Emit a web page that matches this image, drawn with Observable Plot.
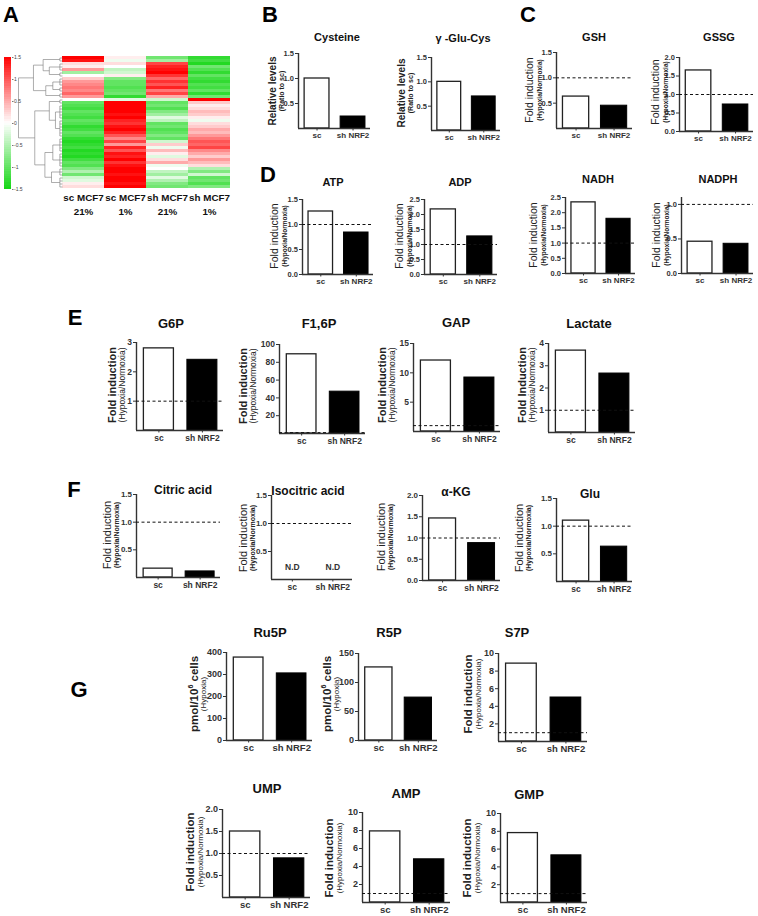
<!DOCTYPE html>
<html><head><meta charset="utf-8">
<script src="https://cdn.jsdelivr.net/npm/d3@7"></script>
<script src="https://cdn.jsdelivr.net/npm/@observablehq/plot@0.6"></script>
<style>
body{margin:0;background:#fff;font-family:"Liberation Sans",Arial,sans-serif;}
#root{position:relative;width:758px;height:916px;overflow:hidden;background:#fff;}
.abs{position:absolute;}
.title{position:absolute;transform:translate(-50%,-50%);font-weight:bold;white-space:nowrap;color:#111;line-height:1;}
.ylab{position:absolute;transform:translate(-50%,-50%) rotate(-90deg);white-space:nowrap;text-align:center;line-height:1.1;color:#222;}
.letter{position:absolute;transform:translate(-50%,-50%);font-weight:bold;font-size:22px;line-height:1;color:#000;}
</style></head><body><div id="root"></div>
<script>
// ---------- DATA ----------
const groups = ["sc", "sh NRF2"];
const metabolites = ["Cysteine", "γ -Glu-Cys", "GSH", "GSSG", "ATP", "ADP", "NADH", "NADPH",
  "G6P", "F1,6P", "GAP", "Lactate", "Citric acid", "Isocitric acid", "α-KG", "Glu",
  "Ru5P", "R5P", "S7P", "UMP", "AMP", "GMP"];
const scValues = [1.0, 1.0, 0.63, 1.65, 1.26, 2.17, 2.34, 0.46, 2.8, 89, 12.1, 3.68, 0.16, null, 1.46, 1.1, 377, 126, 8.85, 1.5, 7.9, 7.8];
const shValues = [0.24, 0.7, 0.45, 0.73, 0.84, 1.27, 1.8, 0.43, 2.41, 47, 9.2, 2.65, 0.11, null, 0.88, 0.63, 305, 74, 5.0, 0.89, 4.8, 5.3];
const yTickValues = [
  [0.5, 1, 1.5], [0.5, 1, 1.5], [0.5, 1, 1.5], [0, 0.5, 1, 1.5, 2],
  [0, 0.5, 1, 1.5], [0, 0.5, 1, 1.5, 2, 2.5], [0, 0.5, 1, 1.5, 2, 2.5], [0, 0.5, 1],
  [1, 2, 3], [20, 40, 60, 80, 100], [5, 10, 15], [1, 2, 3, 4],
  [0.5, 1, 1.5], [0.5, 1, 1.5], [0, 0.5, 1, 1.5, 2], [0.5, 1, 1.5],
  [0, 100, 200, 300, 400], [0, 50, 100, 150], [2, 4, 6, 8, 10],
  [0.5, 1, 1.5, 2], [2, 4, 6, 8, 10], [2, 4, 6, 8, 10]];
const yLabelMain = ["Relative levels", "Relative levels", "Fold induction", "Fold induction",
  "Fold induction", "Fold induction", "Fold induction", "Fold induction",
  "Fold induction", "Fold induction", "Fold induction", "Fold Induction",
  "Fold induction", "Fold induction", "Fold induction", "Fold induction",
  "pmol/10<sup>6</sup> cells", "pmol/10<sup>6</sup> cells", "Fold induction",
  "Fold induction", "Fold induction", "Fold induction"];
const yLabelSub = ["(Ratio to sc)", "(Ratio to sc)"].concat(Array(14).fill("(Hypoxia/Normoxia)"),
  ["(Hypoxia)", "(Hypoxia)"], Array(4).fill("(Hypoxia/Normoxia)"));
const referenceLine = 1; // fold induction = 1
const notDetected = "N.D";

// heatmap (rows top to bottom)
const heatColumns = ["sc MCF7\n21%", "sc MCF7\n1%", "sh MCF7\n21%", "sh MCF7\n1%"];
const heatSc21 = [1.5, 1.4, 0.2, 0.1, 0.6, -0.6, 0.0, 0.3, 0.6, 0.7, 0.8, 0.7, 0.9, 0.6, 0.0,
  -1.0, -1.1, -1.2, -1.0, -1.1, -1.2, -1.0, -1.1, -1.3, -1.2, -1.0, -1.1, -1.3, -1.4, -1.3,
  -1.2, -1.4, -1.3, -1.4, -1.2, -1.0, -1.1, -0.8, -0.5, -0.9, -0.3, -0.2, 0.1, 0.2];
const heatSc1 = [0.1, -0.1, 0.2, 0.0, -0.4, -0.3, 0.1, -0.8, -1.0, -1.0, -1.1, -1.0, -0.9, -1.3, -0.2,
  1.5, 1.5, 1.5, 1.5, 1.4, 1.5, 1.3, 1.2, 1.4, 1.5, 1.3, 1.0, 0.7, 1.1, 0.6,
  1.3, 1.0, 1.4, 1.3, 1.5, 1.2, 1.4, 1.5, 1.5, 1.4, 1.5, 1.5, 1.4, 1.5];
const heatSh21 = [-0.9, -0.6, 1.1, 1.3, 1.4, 1.5, 1.2, 0.9, 1.2, 1.0, 1.3, 0.8, 1.1, 0.5, -0.3,
  -1.0, -0.9, -1.1, -0.8, -0.6, -0.2, -0.4, -1.0, -0.9, -1.1, -1.0, -0.8, -1.0, -0.3, 0.3,
  -0.1, 0.4, 0.1, -0.2, 0.2, 0.5, -0.1, 0.0, -0.4, -0.6, -0.2, -0.5, -0.8, -0.9];
const heatSh1 = [-1.3, -1.2, -1.4, -0.9, -1.1, -1.3, -1.0, -1.2, -1.3, -1.1, -1.2, -1.0, -1.3, -0.9, 1.5,
  0.3, 0.1, 0.2, 0.4, 0.3, 0.1, -0.1, 0.2, 0.3, 0.5, 0.4, 0.6, 0.8, 1.0, 0.9,
  1.1, 0.7, 0.5, 0.3, 0.6, 0.4, 0.2, -0.5, -0.8, -0.3, -1.0, -0.9, -1.1, -0.8];
const colorbarTicks = [-1.5, -1, -0.5, 0, 0.5, 1, 1.5];
// dendrogram: internal node {h, c}; leaf group [firstRow, lastRow]
const dendroTree = {h: 1.0, c: [
  {h: 0.66, c: [
    {h: 0.44, c: [[0, 1], {h: 0.3, c: [[2, 4], [5, 6]]}]},
    {h: 0.38, c: [{h: 0.22, c: [[7, 9], [10, 11]]}, [12, 13]]}
  ]},
  {h: 0.63, c: [
    {h: 0.3, c: [[14, 15], {h: 0.16, c: [[16, 20], [21, 26]]}]},
    {h: 0.4, c: [{h: 0.22, c: [[27, 31], [32, 36]]}, {h: 0.25, c: [[37, 39], [40, 43]]}]}
  ]}
]};

// ---------- LAYOUT (pixel placement of each small chart) ----------
const layout = [
  {ax:298, ar:370, yt:53, yb:128, max:1.5, tx:337, ty:37, lx:276, ly:91, st:"B"},
  {ax:431, ar:500, yt:57, yb:130, max:1.5, tx:463, ty:38, lx:405, ly:93, st:"B"},
  {ax:556, ar:632, yt:52, yb:128, max:1.5, tx:594, ty:37, lx:533, ly:90, st:"C", dash:true},
  {ax:679, ar:753, yt:57, yb:131, max:2.0, tx:719, ty:37, lx:659, ly:92, st:"C", dash:true},
  {ax:302, ar:373, yt:199, yb:274, max:1.5, tx:333, ty:182, lx:278, ly:236, st:"C", dash:true},
  {ax:424, ar:497, yt:199, yb:274, max:2.5, tx:460, ty:182, lx:403, ly:236, st:"C", dash:true},
  {ax:565, ar:635, yt:197, yb:273, max:2.5, tx:598, ty:179, lx:537, ly:235, st:"C", dash:true},
  {ax:681, ar:753, yt:197, yb:273, max:1.1, tx:718, ty:179, lx:660, ly:235, st:"C", dash:true},
  {ax:136, ar:223, yt:342, yb:430, max:3, tx:171, ty:323, lx:117, ly:385, st:"E", dash:true},
  {ax:279, ar:365, yt:344, yb:433, max:100, tx:319, ty:323, lx:248, ly:386, st:"E", dash:true},
  {ax:413, ar:500, yt:343, yb:431, max:15, tx:456, ty:322, lx:387, ly:385, st:"E", dash:true},
  {ax:548, ar:635, yt:343, yb:432, max:4, tx:589, ty:323, lx:527, ly:385, st:"E", dash:true},
  {ax:136, ar:220, yt:494, yb:577, max:1.5, tx:183, ty:490, lx:111, ly:535, st:"F", dash:true},
  {ax:271, ar:352, yt:495, yb:579, max:1.5, tx:308, ty:491, lx:247, ly:538, st:"F", dash:true},
  {ax:422, ar:500, yt:495, yb:580, max:2.0, tx:456, ty:492, lx:385, ly:537, st:"F", dash:true},
  {ax:556, ar:632, yt:498, yb:581, max:1.5, tx:590, ty:494, lx:523, ly:538, st:"F", dash:true},
  {ax:226, ar:312, yt:652, yb:740, max:400, tx:270, ty:632, lx:198, ly:694, st:"G"},
  {ax:358, ar:437, yt:653, yb:740, max:150, tx:389, ty:632, lx:331, ly:694, st:"G"},
  {ax:498, ar:587, yt:653, yb:741, max:10, tx:517, ty:632, lx:473, ly:694, st:"G", dash:true},
  {ax:222, ar:310, yt:809, yb:897, max:2.0, tx:267, ty:788, lx:195, ly:852, st:"G", dash:true},
  {ax:362, ar:450, yt:812, yb:902, max:10, tx:406, ty:793, lx:334, ly:858, st:"G", dash:true},
  {ax:500, ar:587, yt:813, yb:902, max:10, tx:529, ty:794, lx:472, ly:858, st:"G", dash:true}
];
const styles = {
  B: {title: 11, main: 10, mainW: "bold", sub: 7, subW: "bold", tick: 7.5, xlab: 8},
  C: {title: 11, main: 10.5, mainW: "normal", sub: 6.5, subW: "bold", tick: 7.5, xlab: 8},
  E: {title: 13, main: 11, mainW: "bold", sub: 8.5, subW: "normal", tick: 8.5, xlab: 8.5},
  F: {title: 12, main: 11, mainW: "normal", sub: 7, subW: "bold", tick: 8, xlab: 8.5},
  G: {title: 13, main: 11.5, mainW: "bold", sub: 8, subW: "normal", tick: 9, xlab: 9.5}
};
const letters = [["A", 11, 15], ["B", 270, 15], ["C", 528, 15], ["D", 268, 175], ["E", 75, 318], ["F", 74, 490], ["G", 79, 690]];
const FONT = "Liberation Sans, Arial, sans-serif";
const barStart = 0.17, barEnd = 0.86, barMid = (barStart + barEnd) / 2;

const root = document.getElementById("root");
function place(el, left, top) {
  el.style.position = "absolute"; el.style.left = left + "px"; el.style.top = top + "px";
  root.appendChild(el); return el;
}
function html(cls, left, top, inner, extra = "") {
  const d = document.createElement("div");
  d.className = cls; d.innerHTML = inner; d.setAttribute("style", extra);
  return place(d, left, top);
}
const svgStyle = {fontFamily: FONT, background: "transparent", overflow: "visible", color: "#222"};

// ---------- BAR PANELS ----------
layout.forEach((L, i) => {
  const st = styles[L.st];
  const ml = 30, mr = 2, mt = 6, mb = 22;
  const bars = groups.map((g, slot) => ({group: g, slot, value: slot === 0 ? scValues[i] : shValues[i]}));
  const present = bars.filter(d => d.value != null);
  const missing = bars.filter(d => d.value == null);
  const ticks = yTickValues[i];
  const fmt = ticks.some(t => !Number.isInteger(t)) ? d3.format(".1f") : d3.format("d");
  const marks = [
    Plot.rectY(present.filter(d => d.slot === 0), {x1: d => d.slot + barStart, x2: d => d.slot + barEnd, y: "value", fill: "#fff", stroke: "#222", strokeWidth: 1.3}),
    Plot.rectY(present.filter(d => d.slot === 1), {x1: d => d.slot + barStart, x2: d => d.slot + barEnd, y: "value", fill: "#000", stroke: "#000", strokeWidth: 1}),
    Plot.ruleY([0], {stroke: "#333", strokeWidth: 1.4}),
    Plot.ruleX([0], {stroke: "#333", strokeWidth: 1.4}),
    Plot.axisY(ticks, {tickSize: 3, tickPadding: 1.5, tickFormat: fmt, fontSize: st.tick, fontWeight: "bold", fill: "#333", stroke: "#333", label: null}),
    Plot.axisX(bars.map(d => d.slot + barMid), {tickSize: 2.5, tickPadding: 1.5, tickFormat: d => d < 1 ? groups[0] : groups[1], fontSize: st.xlab, fontWeight: "bold", fill: "#333", stroke: "#333", label: null})
  ];
  if (L.dash) marks.push(Plot.ruleY([referenceLine], {stroke: "#111", strokeWidth: 1, strokeDasharray: "3,2.5"}));
  if (missing.length) marks.push(Plot.text(missing, {x: d => d.slot + barMid, frameAnchor: "bottom", dy: -10, text: () => notDetected, fontSize: 8.5, fontWeight: "bold", fill: "#333"}));
  const svg = Plot.plot({
    width: L.ar - L.ax + ml + mr, height: L.yb - L.yt + mt + mb,
    marginLeft: ml, marginRight: mr, marginTop: mt, marginBottom: mb,
    x: {domain: [0, 2]}, y: {domain: [0, L.max]},
    style: svgStyle, marks
  });
  place(svg, L.ax - ml, L.yt - mt);
  html("title", L.tx, L.ty, metabolites[i], `font-size:${st.title}px`);
  html("ylab", L.lx, L.ly,
    `<div style="font-size:${st.main}px;font-weight:${st.mainW}">${yLabelMain[i].replace("<sup>", "<sup style='font-size:7px'>")}</div><div style="font-size:${st.sub}px;font-weight:${st.subW}">${yLabelSub[i]}</div>`);
});

letters.forEach(([t, x, y]) => html("letter", x, y, t));

// ---------- HEATMAP ----------
const heatValues = [heatSc21, heatSc1, heatSh21, heatSh1];
const heatData = [];
heatColumns.forEach((c, ci) => heatValues[ci].forEach((v, r) => heatData.push({col: c, row: r, value: v})));
const nRows = heatSc21.length;
const colorScale = {type: "linear", domain: [-1.5, 0, 1.5], range: ["#13d613", "#ffffff", "#ff0000"], clamp: true};
const heat = Plot.plot({
  width: 168, height: 132 + 34, marginLeft: 0, marginRight: 0, marginTop: 0, marginBottom: 34,
  x: {domain: heatColumns, padding: 0},
  y: {domain: d3.range(nRows), padding: 0, axis: null},
  color: colorScale,
  style: svgStyle,
  marks: [
    Plot.cell(heatData, {x: "col", y: "row", fill: "value", shapeRendering: "crispEdges"}),
    Plot.axisX({tickSize: 0, tickPadding: 3, fontSize: 9.8, fontWeight: "bold", lineHeight: 1.4, fill: "#111", label: null})
  ]
});
place(heat, 62, 56);

// ---------- DENDROGRAM ----------
const segs = [];
const leafH = 0.06;
function layoutNode(n) {
  if (Array.isArray(n)) {
    const [a, b] = n;
    for (let r = a; r <= b; r++) segs.push({x1: 0, y1: r, x2: leafH, y2: r});
    if (b > a) segs.push({x1: leafH, y1: a, x2: leafH, y2: b});
    return {y: (a + b) / 2, h: leafH};
  }
  const kids = n.c.map(layoutNode);
  kids.forEach(k => segs.push({x1: k.h, y1: k.y, x2: n.h, y2: k.y}));
  segs.push({x1: n.h, y1: d3.min(kids, k => k.y), x2: n.h, y2: d3.max(kids, k => k.y)});
  return {y: d3.mean(kids, k => k.y), h: n.h};
}
layoutNode(dendroTree);
const dendro = Plot.plot({
  width: 47, height: 132, marginLeft: 3, marginRight: 0, marginTop: 0, marginBottom: 0,
  x: {domain: [1, 0], axis: null},
  y: {domain: [nRows - 0.5, -0.5], axis: null},
  style: svgStyle,
  marks: [Plot.link(segs, {x1: "x1", y1: "y1", x2: "x2", y2: "y2", stroke: "#777", strokeWidth: 0.6})]
});
place(dendro, 15, 56);

// ---------- COLORBAR ----------
const rampStops = d3.range(-1.5, 1.5, 0.05).map(v => ({lo: v, hi: v + 0.05, mid: v + 0.025}));
const cbar = Plot.plot({
  width: 24, height: 134, marginLeft: 4, marginRight: 13, marginTop: 1, marginBottom: 1,
  y: {domain: [-1.5, 1.5]},
  color: colorScale,
  style: svgStyle,
  marks: [
    Plot.rect(rampStops, {y1: "lo", y2: "hi", fill: "mid", shapeRendering: "crispEdges"}),
    Plot.axisY(colorbarTicks, {anchor: "right", tickSize: 1.5, tickPadding: 1, fontSize: 5, tickFormat: d => String(d), fill: "#444", stroke: "#777", label: null})
  ]
});
place(cbar, 0, 56);
</script></body></html>
